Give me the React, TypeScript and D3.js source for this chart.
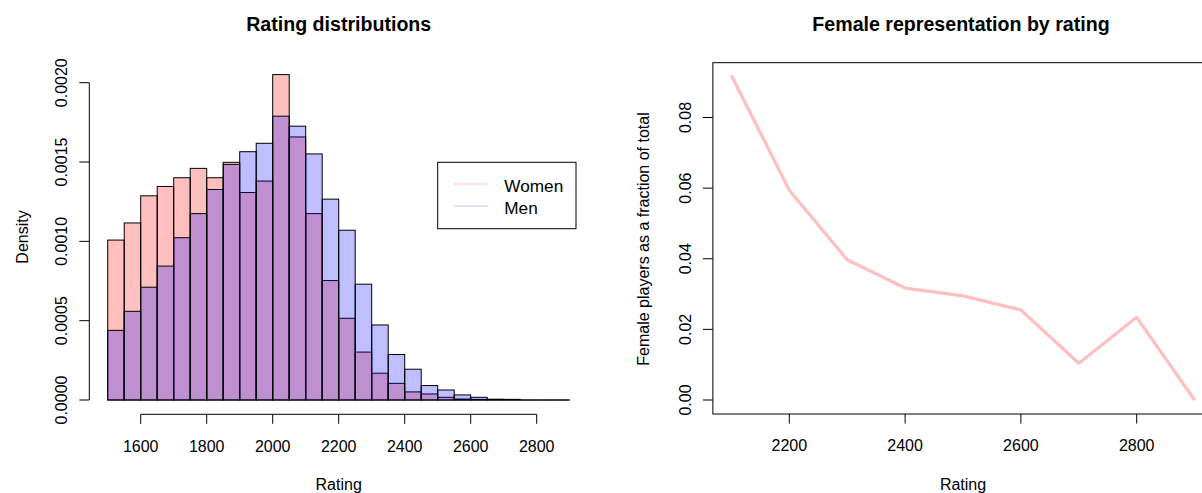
import React from "react";
import * as d3 from "d3";

// Histogram bins: 50-point rating bins from 1500 to 2900
const binStart = 1500;
const binWidth = 50;
const binCount = 28;

// Density per bin (women, men)
const womenDensity = [
  0.001008, 0.001116, 0.001287, 0.001346, 0.001401, 0.00146, 0.001401, 0.001498,
  0.001308, 0.00138, 0.002051, 0.001658, 0.001175, 0.000753, 0.000515, 0.000302,
  0.000169, 0.000105, 0.000051, 0.000038, 0.000017, 0.000006, 0.000004, 0, 0, 0, 0, 0,
];
const menDensity = [
  0.000439, 0.000559, 0.000711, 0.000844, 0.001023, 0.001175, 0.001327, 0.001485,
  0.001565, 0.001618, 0.001789, 0.001726, 0.001551, 0.001266, 0.00107, 0.00073,
  0.000473, 0.000287, 0.000194, 0.000091, 0.000063, 0.000032, 0.000017, 0.000005,
  0.000004, 0, 0, 0,
];

// Female share of players by rating level
const ratingLevels = [2100, 2200, 2300, 2400, 2500, 2600, 2700, 2800, 2900];
const femaleFraction = [0.0919, 0.0594, 0.0397, 0.0317, 0.0295, 0.0255, 0.0104, 0.0234, 0.0];

const leftXTicks = [1600, 1800, 2000, 2200, 2400, 2600, 2800];
const leftYTicks = [0, 0.0005, 0.001, 0.0015, 0.002];
const rightXTicks = [2200, 2400, 2600, 2800];
const rightYTicks = [0, 0.02, 0.04, 0.06, 0.08];

const legendItems = [
  { label: "Women", color: "rgba(255,0,0,0.25)" },
  { label: "Men", color: "rgba(0,0,255,0.25)" },
];

const FONT = "'Liberation Sans', Arial, Helvetica, sans-serif";
const W = 1202;
const H = 493;

export default function App() {
  // Left panel scales
  const xL = d3.scaleLinear().domain([1600, 2800]).range([140.7, 536.7]);
  const yL = d3.scaleLinear().domain([0, 0.002]).range([400, 82.7]);
  // Right panel scales
  const xR = d3.scaleLinear().domain([2200, 2800]).range([789.3, 1136.7]);
  const yR = d3.scaleLinear().domain([0, 0.08]).range([400, 117.5]);

  const bins = d3.range(binCount).map((i) => binStart + i * binWidth);

  // Each bin is a bordered rectangle; empty bins collapse to a line on the baseline
  const bars = (vals: number[], fill: string, key: string) =>
    bins.map((b, i) => {
      const x0 = xL(b);
      const x1 = xL(b + binWidth);
      const y0 = yL(0);
      const y1 = yL(vals[i]);
      if (y0 - y1 < 0.5) {
        return <line key={key + i} x1={x0} x2={x1} y1={y0} y2={y0} stroke="#000" strokeWidth={1} />;
      }
      return (
        <rect
          key={key + i}
          x={x0}
          y={y1}
          width={x1 - x0}
          height={y0 - y1}
          fill={fill}
          stroke="#000"
          strokeWidth={1}
        />
      );
    });

  const line = d3
    .line<number>()
    .x((_, i) => xR(ratingLevels[i]))
    .y((d) => yR(d));

  const leftAxisX = 89.3;
  const axisYL = 414.3;
  const rightBox = { x0: xR(2068), x1: xR(2932), y0: 62.7, y1: 414 };

  return (
    <div style={{ position: "absolute", left: 0, top: 0 }}>
      <svg width={W} height={H} style={{ display: "block", background: "#fff" }} fontFamily={FONT}>
        {/* Left panel: overlaid histograms */}
        <text x={338.7} y={31} textAnchor="middle" fontSize={19.6} fontWeight="bold" fill="#000">
          Rating distributions
        </text>
        {bars(womenDensity, "rgba(255,0,0,0.25)", "w")}
        {bars(menDensity, "rgba(0,0,255,0.25)", "m")}

        {/* left y axis */}
        <line x1={leftAxisX} x2={leftAxisX} y1={yL(0)} y2={yL(0.002)} stroke="#000" />
        {leftYTicks.map((t) => (
          <g key={"ly" + t}>
            <line x1={leftAxisX - 10} x2={leftAxisX} y1={yL(t)} y2={yL(t)} stroke="#000" />
            <text
              transform={`translate(66.7,${yL(t)}) rotate(-90)`}
              textAnchor="middle"
              fontSize={16}
              fill="#000"
            >
              {d3.format(".4f")(t)}
            </text>
          </g>
        ))}
        <text transform={`translate(28,237) rotate(-90)`} textAnchor="middle" fontSize={16} fill="#000">
          Density
        </text>

        {/* left x axis */}
        <line x1={xL(1600)} x2={xL(2800)} y1={axisYL} y2={axisYL} stroke="#000" />
        {leftXTicks.map((t) => (
          <g key={"lx" + t}>
            <line x1={xL(t)} x2={xL(t)} y1={axisYL} y2={axisYL + 9.5} stroke="#000" />
            <text x={xL(t)} y={452} textAnchor="middle" fontSize={16} fill="#000">
              {t}
            </text>
          </g>
        ))}
        <text x={338.7} y={490} textAnchor="middle" fontSize={16} fill="#000">
          Rating
        </text>

        {/* legend */}
        <rect x={437.7} y={162.3} width={138.3} height={66.4} fill="#fff" stroke="#000" />
        {legendItems.map((it, i) => (
          <g key={it.label}>
            <line
              x1={454.3}
              x2={488.3}
              y1={184 + i * 22}
              y2={184 + i * 22}
              stroke={it.color}
              strokeWidth={1}
            />
            <text x={504.3} y={191.7 + i * 21.8} fontSize={17.2} fill="#000">
              {it.label}
            </text>
          </g>
        ))}

        {/* Right panel: female fraction line */}
        <text x={961} y={31} textAnchor="middle" fontSize={19.6} fontWeight="bold" fill="#000">
          Female representation by rating
        </text>
        <rect
          x={rightBox.x0}
          y={rightBox.y0}
          width={rightBox.x1 - rightBox.x0}
          height={rightBox.y1 - rightBox.y0}
          fill="none"
          stroke="#000"
        />
        <path
          d={line(femaleFraction) || ""}
          fill="none"
          stroke="rgba(255,0,0,0.25)"
          strokeWidth={3.2}
          strokeLinejoin="round"
        />
        {rightYTicks.map((t) => (
          <g key={"ry" + t}>
            <line x1={rightBox.x0 - 10} x2={rightBox.x0} y1={yR(t)} y2={yR(t)} stroke="#000" />
            <text
              transform={`translate(690.5,${yR(t)}) rotate(-90)`}
              textAnchor="middle"
              fontSize={16}
              fill="#000"
            >
              {d3.format(".2f")(t)}
            </text>
          </g>
        ))}
        <text transform={`translate(649,239) rotate(-90)`} textAnchor="middle" fontSize={16} fill="#000">
          Female players as a fraction of total
        </text>
        {rightXTicks.map((t) => (
          <g key={"rx" + t}>
            <line x1={xR(t)} x2={xR(t)} y1={rightBox.y1} y2={rightBox.y1 + 9.5} stroke="#000" />
            <text x={xR(t)} y={451} textAnchor="middle" fontSize={16} fill="#000">
              {t}
            </text>
          </g>
        ))}
        <text x={963} y={490} textAnchor="middle" fontSize={16} fill="#000">
          Rating
        </text>
      </svg>
    </div>
  );
}
